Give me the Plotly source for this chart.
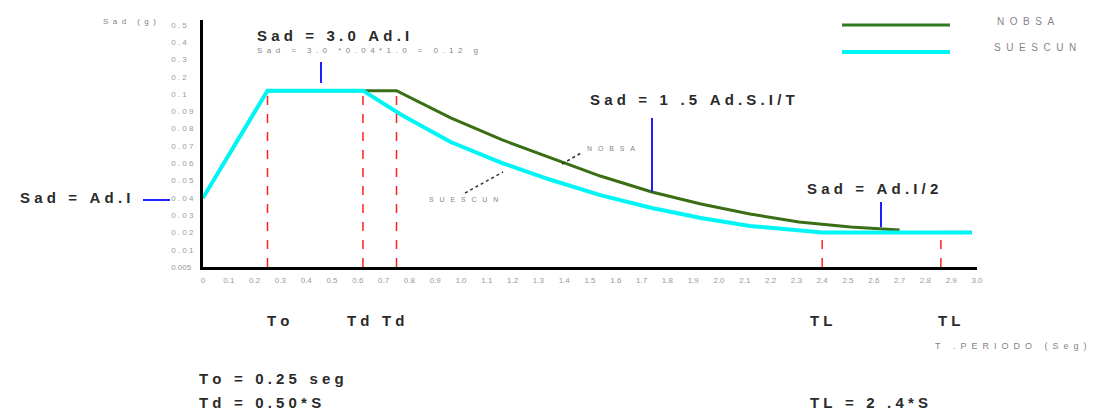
import numpy as np
import plotly.graph_objects as go

# Spectral acceleration Sad (g) vs period T (s)
y_tick_values = [0.005, 0.01, 0.02, 0.03, 0.04, 0.05, 0.06, 0.07, 0.08, 0.09,
                 0.1, 0.2, 0.3, 0.4, 0.5]
y_tick_labels = ["0.005", "0.01", "0.02", "0.03", "0.04", "0.05", "0.06", "0.07",
                 "0.08", "0.09", "0.1", "0.2", "0.3", "0.4", "0.5"]
x_tick_values = [round(0.1 * i, 1) for i in range(31)]
x_tick_labels = ["0"] + [f"{v:.1f}" for v in x_tick_values[1:]]

# NOBSA spectrum
nobsa_T = [0.0, 0.25, 0.75, 0.96, 1.16, 1.35, 1.54, 1.74, 1.93, 2.12, 2.31, 2.51, 2.70,
           None, 2.86, 2.98]
nobsa_sad = [0.04, 0.12, 0.12, 0.0862, 0.0735, 0.063, 0.0526, 0.0434, 0.0364, 0.0307,
             0.026, 0.0231, 0.0214, None, 0.02, 0.02]

# SUESCUN spectrum
suescun_T = [0.0, 0.25, 0.62, 0.77, 0.96, 1.16, 1.35, 1.54, 1.74, 1.93, 2.12, 2.31, 2.4, 2.98]
suescun_sad = [0.04, 0.12, 0.12, 0.0879, 0.0723, 0.0601, 0.0503, 0.0416, 0.0341, 0.0283,
               0.0237, 0.0208, 0.02, 0.02]

# Characteristic periods
To = 0.25
Td_values = [0.62, 0.75]
TL_values = [2.4, 2.86]
plateau = 0.12
tail = 0.02

# The vertical scale is piecewise: equal spacing between consecutive tick values
tick_pos = np.arange(len(y_tick_values))


def yscale(v):
    if v is None:
        return None
    return float(np.interp(v, y_tick_values, tick_pos))


NB = "\u00a0"


def spaced(s, n=1):
    """Letter-spaced text using non-breaking spaces."""
    return (NB * n).join(s.replace(" ", NB))


def ylabel(s):
    # left-aligned look: pad the shorter labels on the right
    if len(s) == 3:
        return spaced(s) + NB * 3
    if len(s) == 4:
        return spaced(s)
    return s + NB


# Figure geometry (pixels) used for placing annotations
W, H = 1107, 416
L, R, T_, B = 203, 130, 20, 149
pw, ph = W - L - R, H - T_ - B


def px(x, y):
    return (x - L) / pw, (H - B - y) / ph


GREEN = "#3a6e14"
CYAN = "#00f5f5"
BLUE = "#1f1fff"
TEXT = "#2a2a2a"
GRAY = "#9a9a9a"
SOFT = "#8a7f8a"
FONT = "Liberation Sans, Arial, sans-serif"

fig = go.Figure()
fig.add_trace(go.Scatter(x=nobsa_T, y=[yscale(v) for v in nobsa_sad], mode="lines",
                         line=dict(color=GREEN, width=3), connectgaps=False,
                         name="NOBSA", hoverinfo="skip"))
fig.add_trace(go.Scatter(x=suescun_T, y=[yscale(v) for v in suescun_sad], mode="lines",
                         line=dict(color=CYAN, width=4), name="SUESCUN", hoverinfo="skip"))

shapes = []
# Red dashed period markers
for t in [To] + Td_values:
    shapes.append(dict(type="line", xref="x", yref="y", x0=t, x1=t, y0=0, y1=yscale(plateau),
                       line=dict(color="#ff2020", width=1.5, dash="dash")))
for t in TL_values:
    shapes.append(dict(type="line", xref="x", yref="y", x0=t, x1=t, y0=0, y1=yscale(tail),
                       line=dict(color="#ff2020", width=1.5, dash="dash")))


def seg(x0, y0, x1, y1, color, width=2, dash="solid"):
    a = px(x0, y0)
    b = px(x1, y1)
    shapes.append(dict(type="line", xref="paper", yref="paper", x0=a[0], y0=a[1],
                       x1=b[0], y1=b[1], line=dict(color=color, width=width, dash=dash)))


# Pointer lines for the formulas
seg(143, 200, 170, 200, BLUE)
seg(321, 62, 321, 83, BLUE)
seg(652, 118, 652, 192, BLUE)
seg(881, 202, 881, 227, BLUE)
# Curve tags
seg(562, 164, 581, 153, "#333333", 1.5, "dot")
seg(465, 193, 503, 172, "#333333", 1.5, "dot")
# Legend lines
seg(842, 25, 950, 25, "#2f7a1f", 3)
seg(842, 52, 950, 52, CYAN, 4)

annotations = []


def text(x, y, s, size, color=TEXT, bold=False, anchor="left", gap=1):
    p = px(x, y)
    s = spaced(s, gap)
    annotations.append(dict(xref="paper", yref="paper", x=p[0], y=p[1],
                            text=f"<b>{s}</b>" if bold else s,
                            showarrow=False, xanchor=anchor, yanchor="middle",
                            font=dict(family=FONT, size=size, color=color)))


text(18, 197, "Sad = Ad.I", 15, bold=True)
text(255, 35, "Sad = 3.0 Ad.I", 15, bold=True)
text(255, 50, "Sad = 3.0 *0.04*1.0 = 0.12 g", 8, color=SOFT, gap=2)
text(588, 99, "Sad = 1 .5 Ad.S.I/T", 15, bold=True)
text(805, 188, "Sad = Ad.I/2", 15, bold=True)
text(585, 148, "NOBSA", 7, color=SOFT, gap=3)
text(427, 199, "SUESCUN", 7, color=SOFT, gap=3)
text(995, 21, "NOBSA", 10, color=SOFT, gap=2)
text(992, 48, "SUESCUN", 10, color=SOFT, gap=2)
text(158, 22, "Sad (g)", 8, color=SOFT, anchor="right", gap=2)
text(265, 320, "To", 15, bold=True)
text(345, 320, "Td Td", 15, bold=True)
text(808, 320, "TL", 15, bold=True)
text(936, 320, "TL", 15, bold=True)
text(933, 346, "T .PERIODO (Seg)", 9, color=SOFT, gap=2)
text(197, 378, "To = 0.25 seg", 15, bold=True)
text(197, 403, "Td = 0.50*S", 15, bold=True)
text(808, 403, "TL = 2 .4*S", 15, bold=True)

fig.update_layout(
    width=W, height=H,
    margin=dict(l=L, r=R, t=T_, b=B),
    paper_bgcolor="white", plot_bgcolor="white",
    showlegend=False,
    shapes=shapes, annotations=annotations,
    xaxis=dict(range=[0, 3.0], tickvals=x_tick_values, ticktext=x_tick_labels,
               showgrid=False, zeroline=False, showline=True, linecolor="black", linewidth=3,
               ticks="outside", ticklen=3, tickcolor="rgba(0,0,0,0)",
               tickfont=dict(family=FONT, size=8, color=GRAY)),
    yaxis=dict(range=[0, (H - B - T_) / 17.29], tickvals=list(tick_pos),
               ticktext=[ylabel(s) for s in y_tick_labels],
               showgrid=False, zeroline=False, showline=True, linecolor="black", linewidth=3,
               ticks="outside", ticklen=5, tickcolor="rgba(0,0,0,0)",
               tickfont=dict(family=FONT, size=8, color=GRAY)),
)

fig.write_html("out.html")
